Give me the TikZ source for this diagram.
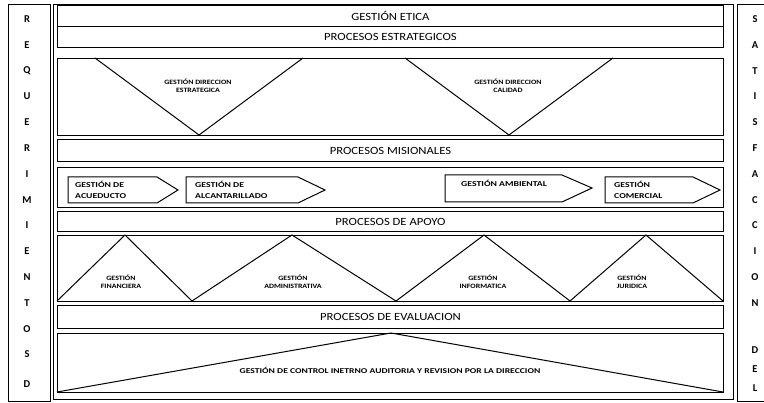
\documentclass[tikz,border=0pt]{standalone}
\usepackage{fontspec}
\setmainfont{Carlito}
\newfontfamily\titlefont[FakeStretch=1.15]{Carlito}
\newfontfamily\widefont[FakeStretch=1.3]{Carlito}
\newfontfamily\midfont[FakeStretch=1.2]{Carlito}
\begin{document}
\begin{tikzpicture}[x=1pt,y=-1pt,
  outer/.style={draw=black, line width=0.9pt},
  bar/.style={draw=black, line width=1pt},
  title/.style={font=\titlefont\fontsize{11}{12}\selectfont},
  small/.style={font=\midfont\bfseries\fontsize{6.6}{7.6}\selectfont, align=center, inner sep=0pt},
  ctrltext/.style={font=\widefont\bfseries\fontsize{7.4}{8}\selectfont, inner sep=0pt},
  smallL/.style={font=\widefont\bfseries\fontsize{7.5}{11}\selectfont, align=left, anchor=west, inner sep=0pt},
  letter/.style={font=\bfseries\fontsize{10.5}{11}\selectfont, inner sep=0pt},
  outline/.style={draw=black, line width=1pt, line join=miter}]
\useasboundingbox (0,0) rectangle (764,403);
\fill[white] (0,0) rectangle (764,403);

% side columns and main frame
\draw[outer] (8,4) rectangle (50,401);
\draw[outer] (53,4) rectangle (733,399);
\draw[outer] (737,4) -- (737,401) -- (770,401);
\draw[outer] (737,4) -- (770,4);

% left letters
\foreach \l [count=\i] in {R,E,Q,U,E,R,I,M,I,E,N,T,O,S}
  \node[letter] (L\i) at (27,{19+(\i-1)*25.8}) {\l};
\node[letter] (Ld) at (27,384) {D};

% right letters
\foreach \l [count=\i] in {S,A,T,I,S,F,A,C,C,I,O,N}
  \node[letter] (R\i) at (755,{19+(\i-1)*25.8}) {\l};
\node[letter] (Rd) at (755,350) {D};
\node[letter] (Re) at (755,369) {E};
\node[letter] (Rl) at (755,388) {L};

% bars
\node[bar, minimum width=666pt, minimum height=21pt, title, anchor=north west] (etica) at (57,5) {GESTIÓN ETICA};
\node[bar, minimum width=666pt, minimum height=21pt, title, anchor=north west] (estr) at (57,26) {PROCESOS ESTRATEGICOS};
\node[bar, minimum width=666pt, minimum height=77pt, anchor=north west] (estrbox) at (57,58) {};
\node[bar, minimum width=666pt, minimum height=22pt, title, anchor=north west] (mis) at (57,139) {PROCESOS MISIONALES};
\node[bar, minimum width=666pt, minimum height=40pt, anchor=north west] (misbox) at (57,167) {};
\node[bar, minimum width=666pt, minimum height=20pt, title, anchor=north west] (apo) at (57,211) {PROCESOS DE APOYO};
\node[bar, minimum width=666pt, minimum height=66pt, anchor=north west] (apobox) at (57,235) {};
\node[bar, minimum width=666pt, minimum height=23pt, title, anchor=north west] (eva) at (57,305) {PROCESOS DE EVALUACION};
\node[bar, minimum width=666pt, minimum height=59pt, anchor=north west] (evabox) at (57,333) {};

% strategic triangles
\draw[outline] (95,58) -- (199,135) -- (303,58);
\draw[outline] (405,58) -- (509,135) -- (613,58);
\node[small] (dest) at (198,86) {GESTIÓN DIRECCION\\ESTRATEGICA};
\node[small] (dcal) at (508,86) {GESTIÓN DIRECCION\\CALIDAD};

% mission arrows
\draw[outline] (68,177) -- (157,177) -- (178,190) -- (157,203) -- (68,203) -- cycle;
\draw[outline] (186,177) -- (298,177) -- (325,190) -- (298,203) -- (186,203) -- cycle;
\draw[outline] (445,175) -- (562,175) -- (592,188) -- (562,202) -- (445,202) -- cycle;
\draw[outline] (605,177) -- (693,177) -- (720,190) -- (693,203) -- (605,203) -- cycle;
\node[smallL] (acu) at (75,190) {GESTIÓN DE\\ACUEDUCTO};
\node[smallL] (alc) at (195,190) {GESTIÓN DE\\ALCANTARILLADO};
\node[smallL] (amb) at (461,183) {GESTIÓN AMBIENTAL};
\node[smallL] (com) at (614,190) {GESTIÓN\\COMERCIAL};

% support zigzag
\draw[outline] (57,301) -- (125,235) -- (192,301) -- (292,235) -- (396,301) -- (484,235) -- (570,301) -- (646,235) -- (723,301);
\node[small] (fin) at (121,282) {GESTIÓN\\FINANCIERA};
\node[small] (adm) at (293,282) {GESTIÓN\\ADMINISTRATIVA};
\node[small] (inf) at (483,282) {GESTIÓN\\INFORMATICA};
\node[small] (jur) at (632,282) {GESTIÓN\\JURIDICA};

% evaluation triangle
\draw[outline] (57,392) -- (391,333) -- (723,392);
\node[ctrltext] (ctrl) at (390,370) {GESTIÓN DE CONTROL INETRNO AUDITORIA Y REVISION POR LA DIRECCION};
\end{tikzpicture}
\end{document}
